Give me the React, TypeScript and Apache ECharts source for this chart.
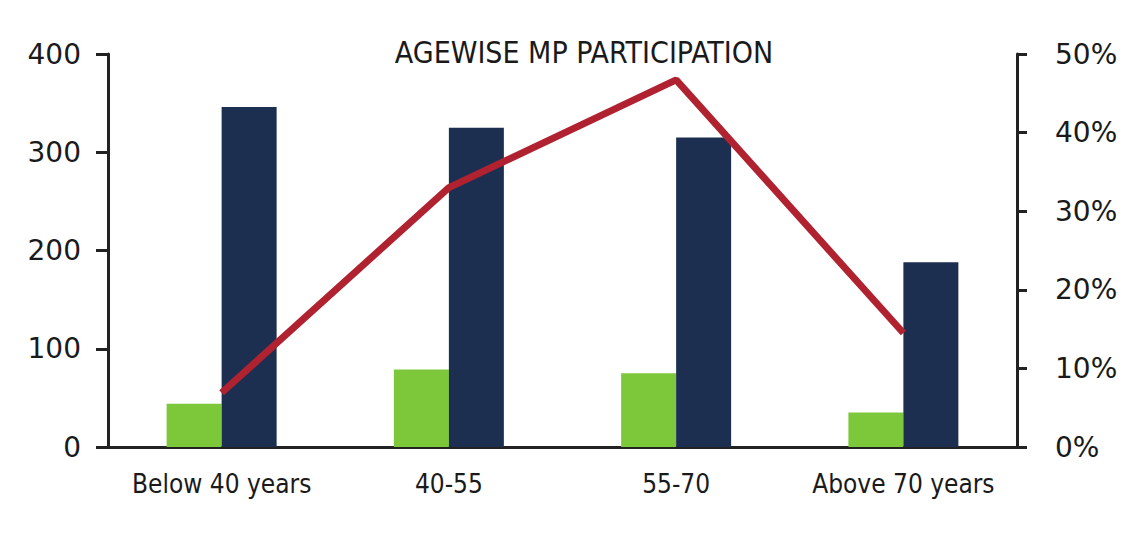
import React, { useEffect, useRef } from "react";
import * as echarts from "echarts";

const categories = ["Below 40 years", "40-55", "55-70", "Above 70 years"];
const greenValues = [44, 79, 75, 35];
const navyValues = [346, 325, 315, 188];
const participationPct = [6.9, 33, 46.7, 14.5];
const leftTicks = { min: 0, max: 400, interval: 100 };
const rightTicks = { min: 0, max: 50, interval: 10 };
const title = "AGEWISE MP PARTICIPATION";

const narrow = "'Liberation Sans Narrow', 'DejaVu Sans Condensed', sans-serif";

export default function App() {
  const ref = useRef<HTMLDivElement>(null);
  useEffect(() => {
    document.body.style.margin = "0";
    const chart = echarts.init(ref.current!, null, { renderer: "svg" });
    chart.setOption({
      animation: false,
      backgroundColor: "#ffffff",
      title: {
        text: title,
        left: 579,
        textAlign: "center",
        top: 32,
        textStyle: { fontFamily: narrow, fontSize: 30, fontWeight: 500, color: "#1a1a1a" },
      },
      grid: { left: 108, right: 125, top: 54, bottom: 95, containLabel: false },
      xAxis: {
        type: "category",
        data: categories,
        axisLine: { show: true, lineStyle: { color: "#222", width: 3 } },
        axisTick: { show: false },
        axisLabel: { interval: 0, fontFamily: narrow, fontSize: 26, color: "#1a1a1a", margin: 24 },
      },
      yAxis: [
        {
          type: "value",
          position: "left",
          ...leftTicks,
          splitLine: { show: false },
          axisLine: { show: true, lineStyle: { color: "#222", width: 3 } },
          axisTick: { show: true, length: 12, lineStyle: { color: "#222", width: 3 } },
          axisLabel: { fontFamily: "'DejaVu Sans', sans-serif", fontSize: 28, color: "#1a1a1a", margin: 27 },
        },
        {
          type: "value",
          position: "right",
          ...rightTicks,
          splitLine: { show: false },
          axisLine: { show: true, lineStyle: { color: "#222", width: 3 } },
          axisTick: { show: true, length: 10, lineStyle: { color: "#222", width: 3 } },
          axisLabel: {
            fontFamily: "'DejaVu Sans', sans-serif",
            fontSize: 28,
            color: "#1a1a1a",
            margin: 38,
            padding: [12, 0, 0, 0],
            formatter: "{value}%",
          },
        },
      ],
      series: [
        {
          type: "bar",
          data: greenValues,
          barWidth: 55,
          barGap: "0%",
          itemStyle: { color: "#7cc83a" },
        },
        {
          type: "bar",
          data: navyValues,
          barWidth: 55,
          barGap: "0%",
          itemStyle: { color: "#1d2f50" },
        },
        {
          type: "line",
          yAxisIndex: 1,
          data: participationPct,
          showSymbol: false,
          symbol: "none",
          lineStyle: { color: "#b0222f", width: 7 },
          z: 5,
        },
      ],
    });
    return () => chart.dispose();
  }, []);
  return <div ref={ref} style={{ width: 1142, height: 542 }} />;
}
